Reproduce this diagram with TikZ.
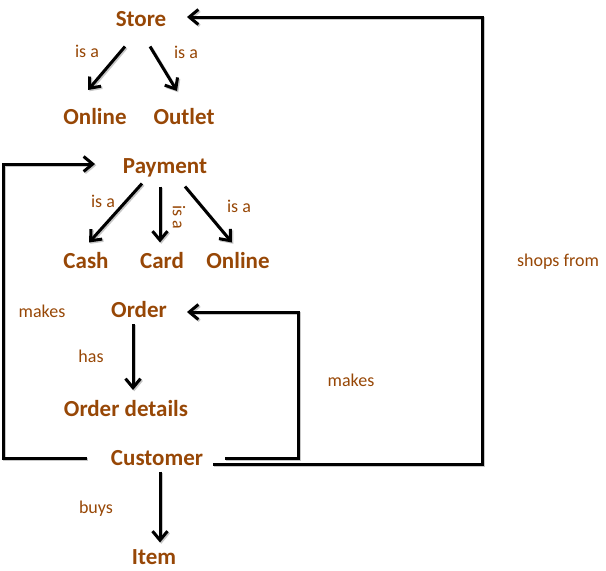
\documentclass[tikz,border=0pt]{standalone}
\usepackage{fontspec}
\setmainfont{Carlito}
\usetikzlibrary{arrows.meta}
\definecolor{brn}{HTML}{974706}
\tikzset{
  ent/.style={inner sep=0pt, text height=15pt, text depth=0pt, text=brn, font=\fontsize{23}{27}\selectfont\bfseries},
  lbl/.style={inner sep=0pt, text height=8.5pt, text depth=0pt, text=brn, font=\fontsize{18}{21}\selectfont},
  conn/.style={line width=3pt, -{Straight Barb[length=9pt,width=15pt]},
    preaction={draw=black!22, line width=3pt, transform canvas={shift={(1.3pt,-1.3pt)}}}},
  loop/.style={conn, line join=miter}
}
\begin{document}
\begin{tikzpicture}[x=1pt,y=-1pt]
\useasboundingbox (0,0) rectangle (606,571);
% entities
\node[ent] (store) at (141,18.5) {Store};
\node[ent] (onl1) at (95,117) {Online};
\node[ent] (outlet) at (184,117) {Outlet};
\node[ent] (pay) at (165,165.5) {Payment};
\node[ent] (cash) at (86,260.5) {Cash};
\node[ent] (card) at (162,260.5) {Card};
\node[ent] (onl2) at (238,260.5) {Online};
\node[ent] (order) at (139,310) {Order};
\node[ent] (od) at (126,409) {Order details};
\node[ent] (cust) at (157,457.5) {Customer};
\node[ent] (item) at (154,556.5) {Item};
% labels
\node[lbl] (l1) at (87,53) {is a};
\node[lbl] (l2) at (186,54) {is a};
\node[lbl] (l3) at (103,203) {is a};
\node[lbl, rotate=-90] (l4) at (177,217) {is a};
\node[lbl] (l5) at (239,208) {is a};
\node[lbl] (l6) at (42,313) {makes};
\node[lbl] (l7) at (91,358) {has};
\node[lbl] (l8) at (96,509) {buys};
\node[lbl] (l9) at (351,382) {makes};
\node[lbl] (l10) at (558,262) {shops from};
% corner coordinates
\coordinate (lc) at (3,164);
\coordinate (oc) at (298,312);
\coordinate (sc) at (482,17);
% connectors
\draw[conn] ([shift={(-16,28)}]store.center) -- ([shift={(-7,-27)}]onl1.center);
\draw[conn] ([shift={(9,28)}]store.center) -- ([shift={(-7,-26)}]outlet.center);
\draw[conn] ([shift={(-23,18)}]pay.center) -- ([shift={(3,-18)}]cash.center);
\draw[conn] ([shift={(-5,21)}]pay.center) -- ([shift={(-2,-18)}]card.center);
\draw[conn] ([shift={(20,21)}]pay.center) -- ([shift={(-6,-18)}]onl2.center);
\draw[conn] ([shift={(-6,14)}]order.center) -- ([shift={(7,-19)}]od.center);
\draw[conn] ([shift={(3,14)}]cust.center) -- ([shift={(6,-14)}]item.center);
\draw[loop] ([shift={(-70,0.5)}]cust.center) -| (lc) -- ([shift={(-70,-1.5)}]pay.center);
\draw[loop] ([shift={(68,0.5)}]cust.center) -| (oc) -- ([shift={(48,2)}]order.center);
\draw[loop] ([shift={(56,6.5)}]cust.center) -| (sc) -- ([shift={(46,-1.5)}]store.center);
\end{tikzpicture}
\end{document}
